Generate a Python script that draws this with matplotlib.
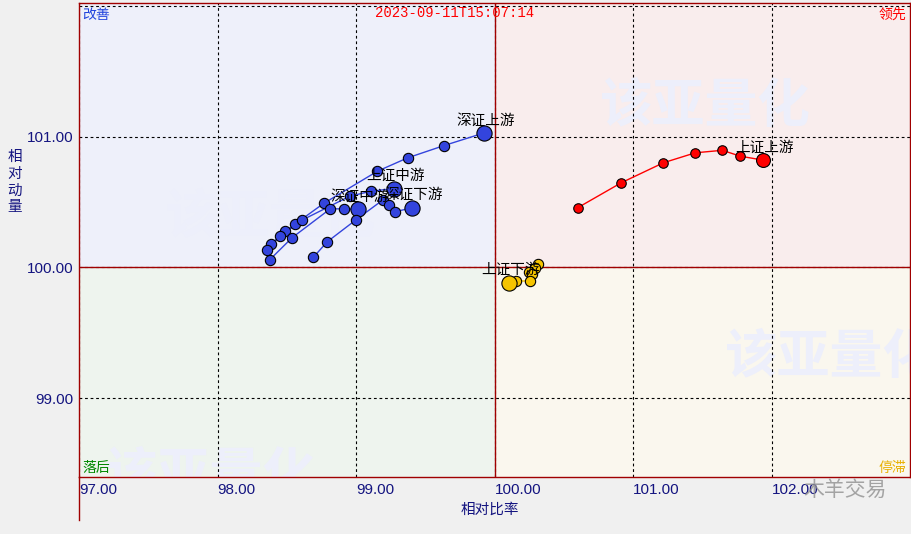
import matplotlib
matplotlib.use('Agg')
import matplotlib.pyplot as plt
from matplotlib.lines import Line2D

plt.rcParams['font.family'] = ['Noto Sans CJK SC', 'DejaVu Sans']

# Chart data: relative ratio (x) and relative momentum (y), tail -> head
names = ['上证上游', '深证上游', '上证中游', '深证中游', '深证下游', '上证下游']

sh_up_x = [100.60, 100.915, 101.22, 101.45, 101.645, 101.775, 101.94]
sh_up_y = [100.456, 100.647, 100.80, 100.876, 100.895, 100.85, 100.82]

sz_up_x = [98.386, 98.488, 98.563, 98.766, 99.154, 99.372, 99.635, 99.925]
sz_up_y = [100.176, 100.275, 100.334, 100.489, 100.735, 100.837, 100.931, 101.028]

sh_mid_x = [98.357, 98.451, 98.609, 98.954, 99.107, 99.273]
sh_mid_y = [100.137, 100.239, 100.361, 100.544, 100.582, 100.603]

sz_mid_x = [98.379, 98.538, 98.814, 98.913, 99.014]
sz_mid_y = [100.061, 100.227, 100.448, 100.448, 100.443]

sz_down_x = [98.693, 98.792, 99.002, 99.198, 99.241, 99.278, 99.406]
sz_down_y = [100.079, 100.196, 100.366, 100.519, 100.481, 100.425, 100.456]

sh_down_x = [100.314, 100.293, 100.246, 100.268, 100.257, 100.152, 100.105]
sh_down_y = [100.025, 99.996, 99.969, 99.947, 99.897, 99.897, 99.885]

xticks = [97, 98, 99, 100, 101, 102]
yticks = [99, 100, 101, 102]
timestamp = '2023-09-11T15:07:14'

series = [
    (names[0], sh_up_x, sh_up_y, '#ff0000', 47, 100),
    (names[1], sz_up_x, sz_up_y, '#3344dd', 55, 120),
    (names[2], sh_mid_x, sh_mid_y, '#3344dd', 55, 120),
    (names[3], sz_mid_x, sz_mid_y, '#3344dd', 55, 120),
    (names[4], sz_down_x, sz_down_y, '#3344dd', 55, 120),
    (names[5], sh_down_x, sh_down_y, '#f5c400', 55, 120),
]

xmin, xmax = 97.0, 103.0
ymin, ymax = 98.40, 102.02

fig = plt.figure(figsize=(9.12, 5.34), dpi=100, facecolor='#f0f0f0')
ax = fig.add_axes([79 / 912, 1 - 477 / 534, (910 - 79) / 912, (477 - 3) / 534])
ax.set_xlim(xmin, xmax)
ax.set_ylim(ymin, ymax)

# quadrant backgrounds
ax.fill_between([xmin, 100], 100, ymax, color='#eef0fa', zorder=0, lw=0)
ax.fill_between([100, xmax], 100, ymax, color='#f9eded', zorder=0, lw=0)
ax.fill_between([xmin, 100], ymin, 100, color='#eef4ee', zorder=0, lw=0)
ax.fill_between([100, xmax], ymin, 100, color='#faf7ee', zorder=0, lw=0)

# watermarks (clipped to the plot area)
wm_kw = dict(fontsize=38, fontweight='bold', color='#edeffb', ha='left',
             va='center', zorder=1, clip_on=True)
for fx, fy in [(600, 107), (165, 217), (725, 357), (105, 476)]:
    ax.text(fx / 912, 1 - fy / 534, '该亚量化', transform=fig.transFigure, **wm_kw)

# grid
ax.set_xticks(xticks)
ax.set_yticks(yticks)
ax.set_yticklabels(['99.00', '100.00', '101.00', ''])
ax.set_xticklabels(['%.2f' % v for v in xticks])
ax.grid(True, color='black', linestyle=(0, (2.5, 2.5)), linewidth=0.8, zorder=1)
ax.axvline(100, color='#a00000', lw=1, zorder=2)
ax.axhline(100, color='#a00000', lw=1, zorder=2)

ax.tick_params(length=0, labelsize=11, labelcolor='#141480', pad=4)
for lbl in ax.get_xticklabels():
    lbl.set_ha('left')
    lbl.set_family('Liberation Sans')
for lbl in ax.get_yticklabels():
    lbl.set_family('Liberation Sans')

for sp in ax.spines.values():
    sp.set_color('#a00000')
    sp.set_linewidth(1)
fig.add_artist(Line2D([79 / 912, 79 / 912], [1 - 477 / 534, 1 - 520 / 534],
                      color='#a00000', lw=1))

# series
for name, xs, ys, col, s_small, s_head in series:
    ax.plot(xs, ys, '-', color=col, lw=1, zorder=3)
    ax.scatter(xs[:-1], ys[:-1], s=s_small, c=col, edgecolors='black',
               linewidths=0.8, zorder=4)
    ax.scatter(xs[-1:], ys[-1:], s=s_head, c=col, edgecolors='black',
               linewidths=0.8, zorder=4)
    ax.annotate(name, (xs[-1], ys[-1]), xytext=(1, 9), textcoords='offset points',
                ha='center', va='center', fontsize=10.5, color='black', zorder=5)

# corner labels
ax.text(0.004, 0.99, '改善', transform=ax.transAxes, ha='left', va='top',
        fontsize=10, color='#2244dd')
ax.text(0.996, 0.99, '领先', transform=ax.transAxes, ha='right', va='top',
        fontsize=10, color='#ff0000')
ax.text(0.004, 0.005, '落后', transform=ax.transAxes, ha='left', va='bottom',
        fontsize=10, color='#008800')
ax.text(0.996, 0.005, '停滞', transform=ax.transAxes, ha='right', va='bottom',
        fontsize=10, color='#e8b000')
ax.text(455 / 912, 1 - 13 / 534, timestamp, transform=fig.transFigure,
        ha='center', va='center', fontsize=10, color='#ff0000',
        family='Liberation Mono')

# axis titles
fig.text(15 / 912, 1 - 182 / 534, '\n'.join('相对动量'), ha='center', va='center',
         fontsize=10.5, color='#141480', linespacing=1.25)
fig.text(490 / 912, 1 - 510 / 534, '相对比率', ha='center', va='center',
         fontsize=10.5, color='#141480')

# source watermark
fig.text(845 / 912, 1 - 490 / 534, '木羊交易', ha='center', va='center',
         fontsize=15, color='#909090', alpha=0.8)

fig.savefig('out.png', dpi=100, facecolor=fig.get_facecolor())
